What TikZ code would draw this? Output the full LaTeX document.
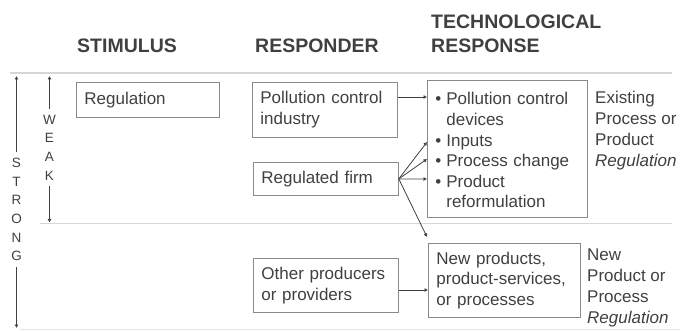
\documentclass[tikz,border=0pt]{standalone}
\usepackage{fontspec}
\setmainfont{Liberation Sans}
\usetikzlibrary{arrows.meta}
\usetikzlibrary{calc}
\usetikzlibrary{positioning}

\definecolor{inkgray}{HTML}{404040}
\definecolor{framegray}{HTML}{8A8A8A}
\definecolor{rulegray}{HTML}{D6D6D6}

\tikzset{
  box/.style = {draw=framegray, line width=0.8pt, text=inkgray, align=left,
    anchor=north west, inner xsep=8pt, inner ysep=3pt,
    font=\fontsize{17}{20.6}\selectfont},
  head/.style = {text=inkgray, anchor=base west, inner sep=0pt,
    font=\fontsize{19.5}{23.5}\selectfont\bfseries},
  sidenote/.style = {text=inkgray, align=left, anchor=north west, inner sep=0pt,
    font=\fontsize{17}{21}\selectfont},
  letters/.style = {text=inkgray, align=center, inner xsep=0pt, inner ysep=6pt,
    font=\fontsize{13.5}{18.6}\selectfont},
  link/.style = {draw=inkgray, line width=0.8pt, -{Latex[length=3.5pt,width=4pt]}},
  divider/.style = {draw=rulegray, line width=1.6pt}
}

\begin{document}
\begin{tikzpicture}[x=1pt, y=-1pt]
  \useasboundingbox (0,0) rectangle (680,331);

  % column headings
  \node[head] (stimhead) at (77,52.5) {STIMULUS};
  \node[head] (resphead) at (255,52.5) {RESPONDER};
  \node[head] (techhead) at (431,28.5) {TECHNOLOGICAL};
  \node[head] (techhead2) at (431,52.5) {RESPONSE};

  % rules between the bands
  \draw[divider] (10,73) -- (672,73);
  \draw[divider] (40,223.5) -- (672,223.5);
  \draw[draw=rulegray!60, line width=0.8pt] (20,329.8) -- (680,329.8);

  % strength scales on the left
  \node[letters] (strong) at (16.5,209.5) {S\\T\\R\\O\\N\\G};
  \node[letters] (weak) at (49.5,147.5) {W\\E\\A\\K};
  \coordinate (strongtop) at (16.5,76);
  \coordinate (strongbot) at (16.5,328);
  \coordinate (weaktop) at (49.5,76);
  \coordinate (weakbot) at (49.5,222.5);
  \draw[link] (strong.north) -- (strongtop);
  \draw[link] (strong.south) -- (strongbot);
  \draw[link] (weak.north) -- (weaktop);
  \draw[link] (weak.south) -- (weakbot);

  % boxes
  \node[box, text width=127, minimum height=35] (reg) at (76,82) {Regulation};
  \node[box, text width=129, minimum height=55] (pci) at (252,82) {Pollution control\\industry};
  \node[box, text width=129, minimum height=33] (firm) at (253,162) {Regulated firm};
  \node[box, text width=129, minimum height=54] (other) at (253,258) {Other producers\\or providers};
  \node[box, text width=144, minimum height=133] (tech) at (427,80)
    {\vspace*{6pt}\par
     \begin{tabular}{@{}l@{\hspace{5pt}}l@{}}
      \textbullet & Pollution control\\
                  & devices\\
      \textbullet & Inputs\\
      \textbullet & Process change\\
      \textbullet & Product\\
                  & reformulation
    \end{tabular}};
  \node[box, text width=136, minimum height=74] (newprod) at (428,243)
    {New products,\\product-services,\\or processes};

  % notes on the right
  \node[sidenote] (existnote) at (595,90.5) {Existing\\Process or\\Product\\\textit{Regulation}};
  \node[sidenote] (newnote) at (587,249) {New\\Product or\\Process\\\textit{Regulation}};

  % entry points on the response boxes
  \coordinate (devicesin) at ($(tech.north west)+(0,17)$);
  \coordinate (inputsin) at ($(tech.north west)+(0,62)$);
  \coordinate (changein) at ($(tech.north west)+(0,79)$);
  \coordinate (productin) at ($(tech.north west)+(0,99)$);
  \coordinate (cornerin) at ($(newprod.north west)+(-1,-6)$);
  \coordinate (newin) at ($(newprod.north west)+(0,47)$);

  % connectors
  \draw[link] (pci.east |- devicesin) -- (devicesin);
  \draw[link] (firm.east) -- (inputsin);
  \draw[link] (firm.east) -- (changein);
  \draw[link] (firm.east) -- (productin);
  \draw[link] (firm.east) -- (cornerin);
  \draw[link] (other.east |- newin) -- (newin);
\end{tikzpicture}
\end{document}
